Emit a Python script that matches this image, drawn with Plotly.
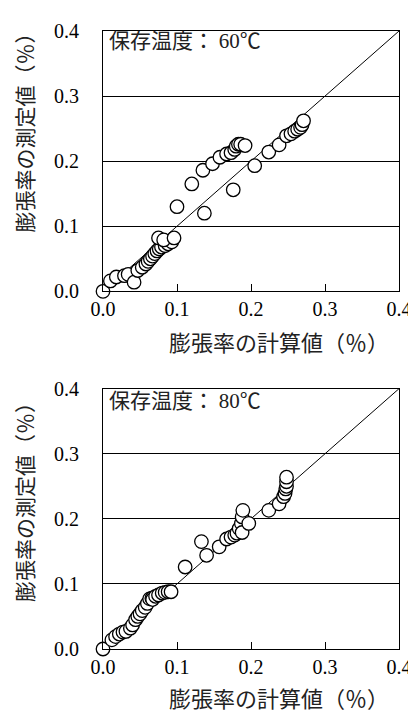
import plotly.graph_objects as go

# Top panel (60℃)
calc_60 = [0.000, 0.010, 0.018, 0.029, 0.034, 0.042, 0.047, 0.053, 0.058, 0.061, 0.064, 0.067,
           0.070, 0.073, 0.076, 0.079, 0.084, 0.088, 0.093, 0.075, 0.082, 0.096,
           0.100, 0.120, 0.137, 0.135, 0.148, 0.158, 0.167, 0.173, 0.176, 0.178, 0.180,
           0.183, 0.186, 0.192, 0.205, 0.224, 0.238, 0.248, 0.254, 0.259, 0.263, 0.267,
           0.269, 0.271]
meas_60 = [0.000, 0.016, 0.022, 0.024, 0.026, 0.014, 0.032, 0.037, 0.042, 0.046, 0.050, 0.054,
           0.058, 0.062, 0.065, 0.068, 0.070, 0.073, 0.076, 0.082, 0.079, 0.082,
           0.130, 0.165, 0.120, 0.186, 0.196, 0.206, 0.211, 0.213, 0.156, 0.218, 0.223,
           0.226, 0.226, 0.224, 0.193, 0.214, 0.225, 0.239, 0.242, 0.246, 0.249, 0.252,
           0.256, 0.262]

# Bottom panel (80℃)
calc_80 = [0.000, 0.012, 0.017, 0.022, 0.027, 0.031, 0.037, 0.040, 0.044, 0.047, 0.050, 0.053,
           0.057, 0.060, 0.063, 0.066, 0.067, 0.071, 0.075, 0.080, 0.084, 0.088, 0.092,
           0.111, 0.133, 0.140, 0.157, 0.167, 0.173, 0.178, 0.181, 0.184, 0.187, 0.188,
           0.189, 0.188, 0.197, 0.224, 0.238, 0.244, 0.246, 0.247, 0.248, 0.248, 0.248]
meas_80 = [0.000, 0.014, 0.019, 0.023, 0.026, 0.027, 0.032, 0.037, 0.045, 0.050, 0.054, 0.059,
           0.064, 0.070, 0.077, 0.078, 0.076, 0.081, 0.083, 0.086, 0.087, 0.088, 0.088,
           0.126, 0.165, 0.144, 0.157, 0.169, 0.172, 0.175, 0.178, 0.185, 0.193, 0.203,
           0.213, 0.179, 0.193, 0.213, 0.223, 0.234, 0.239, 0.246, 0.250, 0.257, 0.264]

line_x = [0.0, 0.4]
line_y = [0.0, 0.4]
tick_vals = [0.0, 0.1, 0.2, 0.3, 0.4]
tick_text = ["0.0", "0.1", "0.2", "0.3", "0.4"]
x_title = "膨張率の計算値（％）"
y_title = "膨張率の測定値（％）"
labels = ["保存温度：", "保存温度："]
temps = ["60", "80"]

SERIF = "Liberation Serif"
CJK = "Noto Sans CJK JP"

fig = go.Figure()

W, H = 416, 718
L, R, T, B = 95, 17, 19, 77
PH = H - T - B
PW = W - L - R

def ypaper(py):
    return (H - B - py) / PH

def xpaper(px):
    return (px - L) / PW

panels = [
    (calc_60, meas_60, "x", "y", (ypaper(281), ypaper(19))),
    (calc_80, meas_80, "x2", "y2", (ypaper(641), ypaper(379))),
]

for i, (cx, my, xa, ya, dom) in enumerate(panels):
    fig.add_trace(go.Scatter(x=line_x, y=line_y, mode="lines",
                             line=dict(color="black", width=1), xaxis=xa, yaxis=ya,
                             showlegend=False, hoverinfo="skip"))
    fig.add_trace(go.Scatter(x=cx, y=my, mode="markers",
                             marker=dict(size=13.5, color="white",
                                         line=dict(color="black", width=1.3)),
                             xaxis=xa, yaxis=ya, showlegend=False, cliponaxis=False))
    sfx = "" if i == 0 else "2"
    fig.update_layout(**{
        "xaxis" + sfx: dict(range=[0, 0.4], domain=[0, 1], anchor="y" + sfx,
                            tickvals=tick_vals, ticktext=tick_text,
                            ticks="inside", ticklen=7, tickcolor="black", tickwidth=1,
                            showline=True, mirror=True, linecolor="black", linewidth=1,
                            showgrid=False, zeroline=False,
                            tickfont=dict(family=SERIF, size=20, color="black")),
        "yaxis" + sfx: dict(range=[0, 0.4], domain=list(dom), anchor="x" + sfx,
                            tickvals=tick_vals, ticktext=tick_text,
                            ticks="outside", ticklen=19, tickcolor="rgba(0,0,0,0)",
                            showline=True, mirror=True, linecolor="black",
                            linewidth=1, showgrid=True, gridcolor="black", gridwidth=1,
                            zeroline=False,
                            tickfont=dict(family=SERIF, size=20, color="black")),
    })

annotations = []
for py in [331, 689]:
    annotations.append(dict(text=x_title, x=xpaper(276), y=ypaper(py), xref="paper", yref="paper",
                            showarrow=False, xanchor="center", yanchor="middle",
                            font=dict(family=CJK, size=22, color="#222")))
for py in [116, 488]:
    annotations.append(dict(text=y_title, x=xpaper(14), y=ypaper(py), xref="paper", yref="paper",
                            showarrow=False, xanchor="center", yanchor="middle", textangle=-90,
                            font=dict(family=CJK, size=21, color="#222")))
for lab, tmp, py in zip(labels, temps, [27, 389]):
    annotations.append(dict(
        text=lab + "\u00a0<span style='font-family:Liberation Serif'>" + tmp + "</span>℃",
        x=xpaper(99), y=ypaper(py), xref="paper", yref="paper",
        showarrow=False, xanchor="left", yanchor="middle",
        font=dict(family=CJK, size=21, color="#222")))

fig.update_layout(width=W, height=H, margin=dict(l=L, r=R, t=T, b=B),
                  paper_bgcolor="white", plot_bgcolor="white",
                  annotations=annotations)

fig.write_html("out.html")
